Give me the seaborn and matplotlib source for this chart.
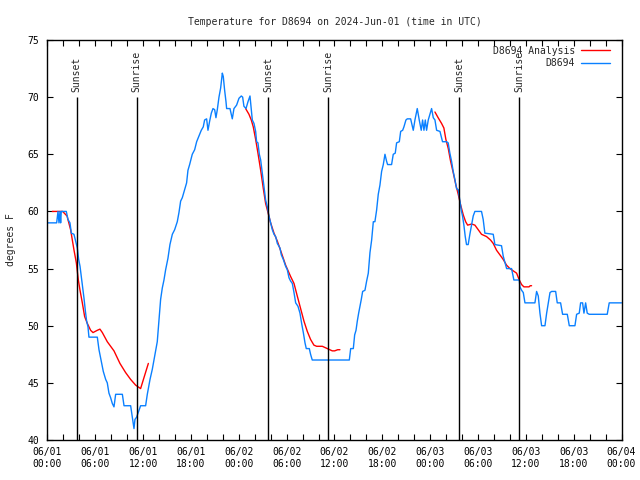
import matplotlib
matplotlib.use("Agg")
import matplotlib.pyplot as plt
import matplotlib.dates as mdates
from matplotlib.lines import Line2D
import seaborn as sns
import pandas as pd

# ---------------------------------------------------------------------------
# hours since 2024-06-01 00:00 UTC, temperature in deg F
obs_hours = [0, 1.15, 1.32, 1.44, 1.57, 1.65, 1.73, 2.36, 2.57, 2.82, 2.99, 3.32, 3.53,
             3.74, 3.91, 4.08, 4.24, 4.41, 4.58, 4.75, 4.91, 5.08, 5.2, 6.25, 6.46, 6.75,
             7.0, 7.3, 7.5, 7.71, 7.92, 8.13, 8.34, 8.55, 8.68, 9.39, 9.6, 10.43, 10.64,
             10.85, 10.97, 11.18, 11.68, 12.31, 12.52, 12.86, 13.15, 13.49, 13.77, 13.98,
             14.19, 14.4, 14.61, 14.82, 15.11, 15.36, 15.66, 15.95, 16.28, 16.49, 16.7,
             16.91, 17.12, 17.45, 17.62, 17.83, 18.16, 18.46, 18.71, 19.0, 19.29, 19.54,
             19.71, 19.96, 20.13, 20.34, 20.55, 20.76, 20.97, 21.13, 21.3, 21.51, 21.72,
             21.93, 22.05, 22.22, 22.39, 22.47, 22.89, 23.18, 23.39, 23.72, 24.02, 24.31,
             24.48, 24.64, 24.9, 25.15, 25.4, 25.48, 25.69, 25.9, 26.11, 26.23, 26.4,
             26.57, 26.74, 26.94, 27.15, 27.36, 27.57, 27.78, 27.99, 28.2, 28.41, 28.62,
             28.83, 29.16, 29.33, 29.58, 29.87, 30.08, 30.29, 30.5, 30.71, 30.92, 31.13,
             31.42, 31.67, 31.88, 32.09, 32.3, 32.46, 32.84, 33.0, 33.21, 37.86, 38.03,
             38.36, 38.53, 38.7, 38.86, 39.03, 39.2, 39.36, 39.53, 39.82, 40.03, 40.24,
             40.45, 40.66, 40.87, 41.07, 41.28, 41.49, 41.7, 41.91, 42.12, 42.33, 42.53,
             42.66, 43.16, 43.37, 43.62, 43.79, 44.13, 44.3, 44.55, 44.71, 44.96, 45.13,
             45.55, 45.88, 46.09, 46.38, 46.63, 46.88, 47.05, 47.22, 47.39, 47.55, 47.76,
             47.97, 48.18, 48.39, 48.6, 48.81, 49.23, 49.55, 50.05, 50.26, 50.47, 50.68,
             50.89, 51.1, 51.31, 51.52, 51.72, 51.93, 52.06, 52.23, 52.4, 52.56, 52.77,
             52.98, 53.19, 53.4, 53.61, 54.44, 54.65, 54.86, 55.91, 56.12, 56.95, 57.16,
             57.59, 58.21, 58.5, 59.18, 59.26, 59.47, 59.68, 59.89, 61.14, 61.35, 61.56,
             61.77, 61.98, 62.4, 62.61, 62.82, 63.03, 63.24, 63.74, 63.94, 64.36, 64.61,
             65.2, 65.45, 66.16, 66.37, 66.7, 66.87, 67.12, 67.29, 67.5, 67.7, 67.95,
             70.21, 70.46, 72.0]
obs_temp = [59, 59, 60, 59, 60, 59, 60, 60, 59.3, 59, 58.1, 58, 57.4,
            56.8, 55.8, 55.2, 54.3, 53.4, 52.4, 51.3, 50.4, 49.9, 49, 49, 47.9, 46.9,
            46, 45.3, 45, 44.1, 43.7, 43.2, 42.9, 44, 44, 44, 43, 43, 42,
            41, 41.8, 42, 43, 43, 44, 45.3, 46.2, 47.5, 48.6, 50.5,
            52.3, 53.3, 54, 54.9, 55.9, 57.1, 58, 58.4, 59.1, 59.9, 60.9,
            61.2, 61.7, 62.5, 63.6, 64.1, 65, 65.4, 66.1, 66.6, 67.1, 67.4,
            68, 68.1, 67.1, 67.9, 68.6, 69, 68.9, 68.2, 68.9, 70, 70.8,
            72.1, 71.8, 70.6, 69.6, 69, 69, 68.1, 69, 69.3, 69.9, 70.1,
            70, 69.2, 69, 69.6, 70.1, 69.5, 68, 67.7, 67, 66.1, 66,
            65, 64.5, 63.4, 62.2, 61, 60.4, 59.6, 59, 58.4, 58, 57.8,
            57.2, 56.8, 56.2, 55.8, 55.2, 54.9, 54.2, 53.9, 53.7, 52.9, 52,
            51.7, 51.1, 50.2, 49.4, 48.5, 48, 48, 47.5, 47, 47, 48,
            48, 49.2, 49.6, 50.4, 51.1, 51.7, 52.3, 53, 53.1, 53.9, 54.6,
            56.4, 57.5, 59.1, 59.1, 60.1, 61.5, 62.3, 63.5, 64.1, 65, 64.4,
            64.1, 64.1, 65, 65.1, 66, 66.1, 67, 67.1, 67.4, 68, 68.1,
            68.1, 67.1, 68, 69, 68, 67.1, 68, 67.1, 68, 67.1, 68,
            68.5, 69, 68.2, 68, 67.1, 67, 66.1, 66.1, 66, 65.1, 64.4,
            63.5, 62.8, 62, 61.9, 61, 60, 59.6, 58.8, 57.8, 57.1, 57.1,
            58, 58.8, 59.6, 60, 60, 59.3, 58.1, 58, 57.1, 57, 56.1,
            55, 55, 54, 54, 53.4, 53.1, 52.9, 52, 52, 53, 52.6,
            51.1, 50, 50, 51.1, 52, 52.9, 53, 53, 52, 52, 51,
            51, 50, 50, 51, 51.1, 52, 52, 51.1, 52, 51.1, 51,
            51, 52, 52]

ana_seg = [1] * 24 + [2] * 30 + [3] * 35
ana_hours = [0.6, 1.9, 2.45, 2.9, 3.33, 3.62, 3.87, 4.08, 4.37, 4.66, 5.0, 5.41,
             5.71, 6.25, 6.58, 6.88, 7.5, 8.34, 9.09, 9.8, 10.43, 11.06, 11.68, 12.65,
             24.85, 25.27, 25.56, 25.81, 26.11, 26.4, 26.74, 27.07, 27.36, 27.66, 27.99,
             28.41, 28.83, 29.33, 29.87, 30.5, 30.92, 31.33, 31.75, 32.17, 32.59, 33.0,
             33.42, 33.76, 34.47, 35.1, 35.72, 36.02, 36.4, 36.68,
             48.6, 49.0, 49.43, 49.72, 49.97, 50.27, 50.56, 50.89, 51.23, 51.52, 51.81,
             52.15, 52.45, 52.7, 53.2, 53.61, 54.03, 54.44, 55.07, 55.57, 55.91, 56.33,
             56.75, 57.16, 57.58, 58.0, 58.42, 58.84, 59.18, 59.47, 59.76, 60.1, 60.4,
             60.55, 60.72]
ana_temp = [60, 60, 59.6, 58.4, 56.6, 55.5, 54, 53.1, 52, 50.8, 50.2, 49.6,
            49.4, 49.6, 49.7, 49.4, 48.6, 47.8, 46.7, 45.9, 45.3, 44.8, 44.5, 46.7,
            69, 68.5, 68, 67.4, 66.3, 65.1, 63.6, 62, 60.7, 59.9, 59,
            58.1, 57.4, 56.4, 55.3, 54.3, 53.7, 52.6, 51.5, 50.4, 49.5, 48.8,
            48.3, 48.2, 48.2, 48, 47.8, 47.8, 47.9, 47.9,
            68.7, 68.2, 67.7, 67.3, 66.3, 65.5, 64.4, 63.4, 62.3, 61.5, 60.6,
            59.7, 59.1, 58.8, 58.9, 58.8, 58.4, 58, 57.8, 57.5, 57.2, 56.6,
            56.2, 55.8, 55.3, 55, 54.8, 54.6, 54, 53.6, 53.4, 53.4, 53.4,
            53.5, 53.5]

sun_hours = [3.67, 11.17, 27.67, 35.17, 51.67, 59.17]
sun_labels = ["Sunset", "Sunrise", "Sunset", "Sunrise", "Sunset", "Sunrise"]
# ---------------------------------------------------------------------------

t0 = pd.Timestamp("2024-06-01 00:00")
df_obs = pd.DataFrame({"time": t0 + pd.to_timedelta(obs_hours, unit="h"), "temp": obs_temp})
df_ana = pd.DataFrame({"time": t0 + pd.to_timedelta(ana_hours, unit="h"), "temp": ana_temp,
                       "seg": ana_seg})

red = "#ff0000"
blue = "#0a80ff"

sns.set_style("ticks")
plt.rcParams["font.family"] = ["DejaVu Sans Mono", "DejaVu Sans"]
plt.rcParams["font.size"] = 7

fig = plt.figure(figsize=(6.4, 4.8), dpi=100)
ax = fig.add_axes([0.0742, 0.0833, 0.8969, 0.8334])

sns.lineplot(data=df_ana, x="time", y="temp", units="seg", estimator=None,
             color=red, lw=1.0, ax=ax, legend=False)
sns.lineplot(data=df_obs, x="time", y="temp", estimator=None, color=blue, lw=1.0,
             ax=ax, legend=False)

for h, lab in zip(sun_hours, sun_labels):
    t = t0 + pd.Timedelta(hours=h)
    ax.vlines(t, 40, 70, color="black", lw=1.0)
    ax.text(t, 70.45, lab, rotation=90, ha="center", va="bottom", fontsize=7)

ax.set_xlim(t0, t0 + pd.Timedelta(hours=72))
ax.set_ylim(40, 75)
ax.set_yticks(range(40, 76, 5))
ax.xaxis.set_major_locator(mdates.HourLocator(byhour=range(0, 24, 6)))
ax.xaxis.set_minor_locator(mdates.HourLocator(byhour=range(0, 24, 2)))
ax.xaxis.set_major_formatter(mdates.DateFormatter("%m/%d\n%H:%M"))
ax.tick_params(which="both", direction="in", top=True, right=True, length=4, width=0.8,
               labelsize=7, color="black", labelcolor="black")
ax.tick_params(axis="x", pad=5)
ax.tick_params(axis="y", pad=6)
for s in ax.spines.values():
    s.set_color("black")
    s.set_linewidth(1.0)

ax.set_xlabel("")
ax.set_ylabel("degrees F", fontsize=7, labelpad=8)
ax.set_title("Temperature for D8694 on 2024-Jun-01 (time in UTC)", fontsize=7, pad=11)

handles = [Line2D([], [], color=red, lw=1.0), Line2D([], [], color=blue, lw=1.0)]
ax.legend(handles, ["D8694 Analysis", "D8694"], loc="upper right",
          bbox_to_anchor=(0.987, 0.995), frameon=False, markerfirst=False, fontsize=7,
          handlelength=3.0, handletextpad=0.6, borderaxespad=0.0, labelspacing=0.25)

fig.savefig("out.png", dpi=100)
